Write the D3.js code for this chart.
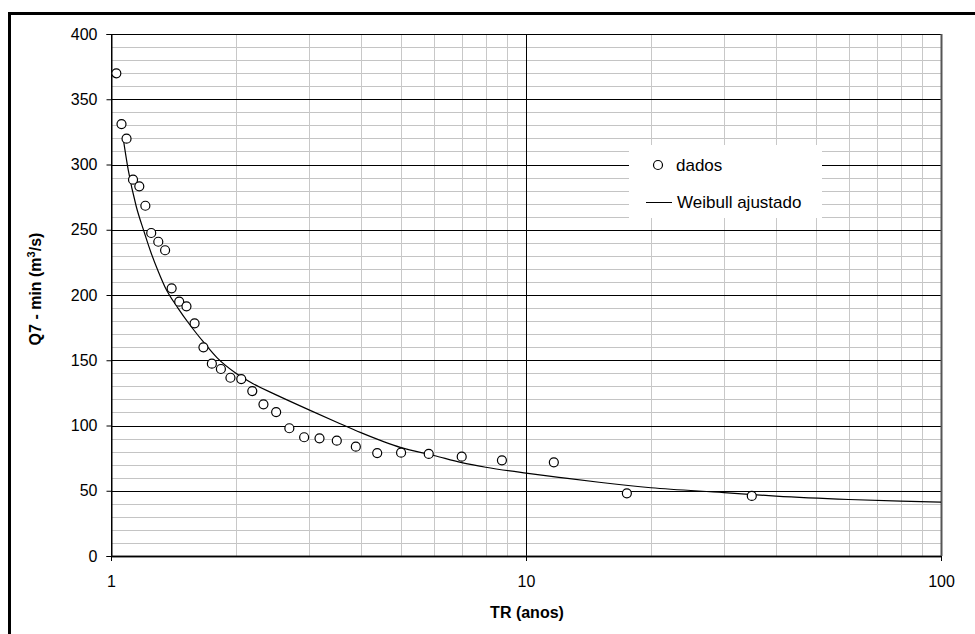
<!DOCTYPE html>
<html>
<head>
<meta charset="utf-8">
<script src="https://cdn.jsdelivr.net/npm/d3@7"></script>
<style>
  body { margin: 0; background: #fff; }
  svg { display: block; font-family: "Liberation Sans", Arial, sans-serif; }
</style>
</head>
<body>
<div class="chart"></div>
<script>
var svgWidth = 975;
var svgHeight = 634;

// plot area, in page pixels
var margin = { top: 34, right: 34, bottom: 78, left: 111 };
var width = svgWidth - margin.left - margin.right;
var height = svgHeight - margin.top - margin.bottom;

// observed points: return period TR (anos) and Q7-min (m3/s)
var trDados = [1.03, 1.06, 1.09, 1.13, 1.17, 1.21, 1.25, 1.30, 1.35, 1.40, 1.46, 1.52,
  1.59, 1.67, 1.75, 1.84, 1.94, 2.06, 2.19, 2.33, 2.50, 2.69, 2.92, 3.18, 3.50, 3.89,
  4.38, 5.00, 5.83, 7.00, 8.75, 11.67, 17.50, 35.00];
var qDados = [369.9, 331.0, 319.8, 288.4, 283.3, 268.4, 247.5, 240.8, 234.3, 205.1, 194.9, 191.3,
  178.3, 159.9, 147.4, 143.3, 136.6, 135.6, 126.4, 116.2, 110.3, 97.9, 91.0, 90.2, 88.4, 83.8,
  78.9, 79.2, 78.2, 76.1, 73.3, 71.8, 48.0, 46.0];

// fitted Weibull curve
var trCurva = [1.07, 1.10, 1.15, 1.20, 1.25, 1.30, 1.35, 1.45, 1.55, 1.67, 1.80, 2.00,
  2.20, 2.50, 3.00, 3.50, 4.00, 5.00, 6.00, 7.00, 8.00, 10.0, 12.0, 15.0, 20.0, 30.0,
  40.0, 60.0, 80.0, 100.0];
var qCurva = [320, 296, 268, 249, 232, 218, 206, 190, 177, 164, 152, 140,
  132, 123.5, 112, 102.5, 94.5, 83, 77, 71.5, 68, 63.5, 60.3, 56.5, 52.3, 48.6,
  45.9, 43.3, 42.0, 41.3];

var xMajor = [1, 10, 100];
var xMinor = [2, 3, 4, 5, 6, 7, 8, 9, 20, 30, 40, 50, 60, 70, 80, 90];
var yMajor = [0, 50, 100, 150, 200, 250, 300, 350, 400];
var yMinor = d3.range(0, 401, 10).filter(v => v % 50 !== 0);

var svg = d3.select(".chart")
  .append("svg")
  .attr("width", svgWidth)
  .attr("height", svgHeight);

// outer frame (cut by the page edges on right and bottom)
svg.append("rect")
  .attr("x", 9.5).attr("y", 13.5)
  .attr("width", 1000).attr("height", 1000)
  .attr("fill", "none")
  .attr("stroke", "#000")
  .attr("stroke-width", 3);

var chartGroup = svg.append("g")
  .attr("transform", `translate(${margin.left}, ${margin.top})`);

var xLogScale = d3.scaleLog().domain([1, 100]).range([0, width]);
var yLinearScale = d3.scaleLinear().domain([0, 400]).range([height, 0]);

// minor grid
chartGroup.append("g")
  .selectAll("line.hmin")
  .data(yMinor).enter().append("line")
  .attr("x1", 0).attr("x2", width)
  .attr("y1", d => Math.round(yLinearScale(d)) + 0.5)
  .attr("y2", d => Math.round(yLinearScale(d)) + 0.5)
  .attr("stroke", "#c4c4c4");

chartGroup.append("g")
  .selectAll("line.vmin")
  .data(xMinor).enter().append("line")
  .attr("x1", d => Math.round(xLogScale(d)) + 0.5)
  .attr("x2", d => Math.round(xLogScale(d)) + 0.5)
  .attr("y1", 0).attr("y2", height)
  .attr("stroke", "#c8c8c8");

// major grid
chartGroup.append("g")
  .selectAll("line.hmaj")
  .data(yMajor).enter().append("line")
  .attr("x1", 0).attr("x2", width)
  .attr("y1", d => Math.round(yLinearScale(d)) + 0.5)
  .attr("y2", d => Math.round(yLinearScale(d)) + 0.5)
  .attr("stroke", "#000");

chartGroup.append("g")
  .selectAll("line.vmaj")
  .data(xMajor).enter().append("line")
  .attr("x1", d => Math.round(xLogScale(d)) + 0.5)
  .attr("x2", d => Math.round(xLogScale(d)) + 0.5)
  .attr("y1", 0).attr("y2", height)
  .attr("stroke", d => d === 100 ? "#555" : "#000")
  .attr("stroke-width", d => d === 100 ? 2 : 1);

// bottom edge a bit heavier
chartGroup.append("line")
  .attr("x1", 0).attr("x2", width)
  .attr("y1", height + 0.5).attr("y2", height + 0.5)
  .attr("stroke", "#222").attr("stroke-width", 2);

// axes
var leftAxis = d3.axisLeft(yLinearScale).tickValues(yMajor).tickSize(5).tickPadding(9);
var bottomAxis = d3.axisBottom(xLogScale).tickValues(xMajor)
  .tickFormat(d3.format("d")).tickSize(5).tickPadding(15);

var gy = chartGroup.append("g").attr("transform", "translate(0.5,0)").call(leftAxis);
var gx = chartGroup.append("g").attr("transform", `translate(0, ${height})`).call(bottomAxis);
[gy, gx].forEach(function (g) {
  g.select(".domain").attr("stroke", "#000");
  g.selectAll(".tick line").attr("stroke", "#000");
  g.selectAll("text")
    .attr("fill", "#000")
    .style("font-size", "16px")
    .style("font-family", "Liberation Sans, Arial, sans-serif");
});

// legend box
var legend = chartGroup.append("g")
  .attr("transform", `translate(${629 - margin.left}, ${145 - margin.top})`);
legend.append("rect")
  .attr("width", 193).attr("height", 73)
  .attr("fill", "#fff");
legend.append("circle")
  .attr("cx", 29).attr("cy", 20).attr("r", 4.5)
  .attr("fill", "#fff").attr("stroke", "#000").attr("stroke-width", 1.2);
legend.append("text")
  .attr("x", 47).attr("y", 26)
  .style("font-size", "17px")
  .text("dados");
legend.append("line")
  .attr("x1", 17).attr("x2", 43).attr("y1", 57.5).attr("y2", 57.5)
  .attr("stroke", "#000");
legend.append("text")
  .attr("x", 48).attr("y", 63)
  .style("font-size", "17px")
  .text("Weibull ajustado");

// fitted curve
var curva = trCurva.map((t, i) => ({ tr: t, q: qCurva[i] }));
var line = d3.line()
  .x(d => xLogScale(d.tr))
  .y(d => yLinearScale(d.q))
  .curve(d3.curveMonotoneX);
chartGroup.append("path")
  .datum(curva)
  .attr("d", line)
  .attr("fill", "none")
  .attr("stroke", "#000")
  .attr("stroke-width", 1.2);

// data points
var dados = trDados.map((t, i) => ({ tr: t, q: qDados[i] }));
chartGroup.selectAll("circle.dado")
  .data(dados)
  .enter()
  .append("circle")
  .attr("class", "dado")
  .attr("cx", d => xLogScale(d.tr))
  .attr("cy", d => yLinearScale(d.q))
  .attr("r", 4.5)
  .attr("fill", "#fff")
  .attr("stroke", "#000")
  .attr("stroke-width", 1.2);

// axis labels
chartGroup.append("text")
  .attr("transform", `translate(${527 - margin.left}, ${618 - margin.top})`)
  .attr("text-anchor", "middle")
  .style("font-size", "16px")
  .style("font-weight", "bold")
  .text("TR (anos)");

var yTitle = svg.append("text")
  .attr("transform", "translate(41, 289) rotate(-90)")
  .attr("text-anchor", "middle")
  .style("font-size", "16px")
  .style("font-weight", "bold");
yTitle.append("tspan").text("Q7 - min (m");
yTitle.append("tspan").attr("dy", -6).style("font-size", "11px").text("3");
yTitle.append("tspan").attr("dy", 6).text("/s)");
</script>
</body>
</html>
